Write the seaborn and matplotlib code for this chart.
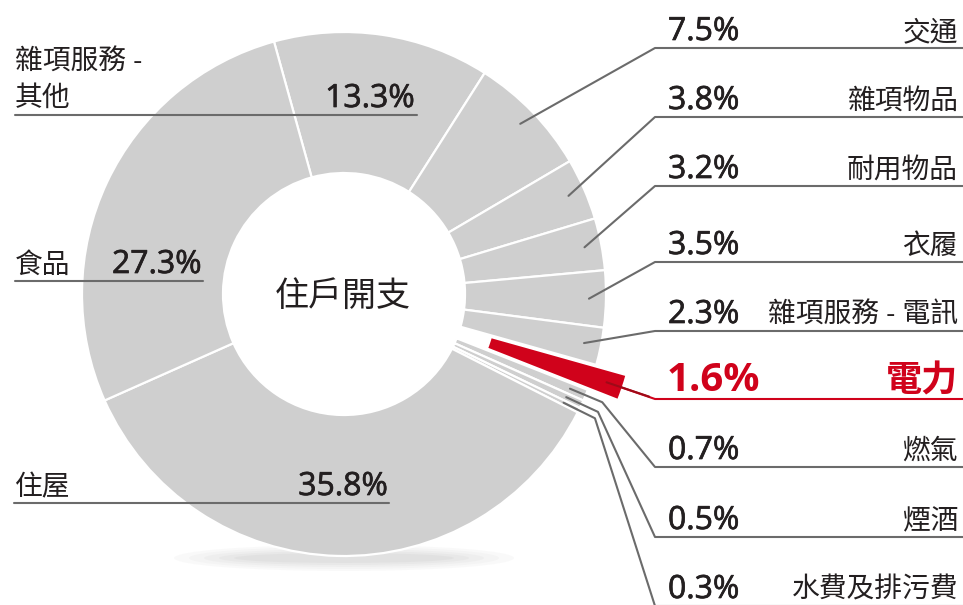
import numpy as np
import matplotlib
matplotlib.use("Agg")
import matplotlib.pyplot as plt
import matplotlib.patheffects as pe
from matplotlib.patches import Ellipse
import seaborn as sns

# household expenditure shares, in the order drawn clockwise from the top-left cut
categories = ["雜項服務 - 其他", "交通", "雜項物品", "耐用物品", "衣履", "雜項服務 - 電訊",
              "電力", "燃氣", "煙酒", "水費及排污費", "住屋", "食品"]
shares = [13.3, 7.5, 3.8, 3.2, 3.5, 2.3, 1.6, 0.7, 0.5, 0.3, 35.8, 27.3]
highlight = "電力"
centre_title = "住戶開支"

W, H = 963, 605
GREY = "#cfcfcf"
RED = "#d0021b"
INK = "#231f20"
LINE = "#6b6b6b"

sns.set_theme(style="white")
plt.rcParams["font.family"] = ["Open Sans", "Noto Sans CJK TC", "DejaVu Sans"]

# a touch heavier than Open Sans regular for the figures
THICK = [pe.withStroke(linewidth=0.5, foreground=INK)]


def py(y):
    # picture rows count from the top
    return H - y


def main() -> None:
    fig = plt.figure(figsize=(W / 100, H / 100), dpi=100)
    ax = fig.add_axes([0, 0, 1, 1])

    cx, cy = 344, py(294)
    R, r_in = 262, 121
    hi = categories.index(highlight)
    colors = [RED if c == highlight else GREY for c in categories]
    explode = [32 if c == highlight else 0 for c in categories]

    # faint shadow under the ring
    for k, a in zip(range(5), [0.05, 0.05, 0.06, 0.07, 0.08]):
        ax.add_patch(Ellipse((cx, py(558)), 340 - 30 * k, 26 - 4 * k,
                             color="#9a9a9a", alpha=a, lw=0, zorder=0))

    wedges, _ = ax.pie(shares, center=(cx, cy), radius=R, startangle=105.5,
                       counterclock=False, colors=colors, explode=explode,
                       wedgeprops=dict(width=R - r_in, edgecolor="white", linewidth=1.6))
    for w in wedges:
        w.set_zorder(1)

    ax.text(cx - 1, py(297), centre_title, ha="center", va="center",
            fontsize=24.5, color=INK, zorder=5)

    # right-hand labels with leader lines
    right_idx = list(range(1, 10))
    rows = [48, 117, 186, 262, 331, 399, 467, 537, 606]
    for i, ly in zip(right_idx, rows):
        w = wedges[i]
        mid = np.deg2rad((w.theta1 + w.theta2) / 2)
        ox, oy = w.center
        sx, sy = ox + 245 * np.cos(mid), oy + 245 * np.sin(mid)
        pct = f"{shares[i]}%"
        if i == hi:
            ax.plot([sx, 655, W], [sy, py(ly), py(ly)], color=RED, lw=1.5,
                    solid_capstyle="butt", zorder=3)
            ax.plot([sx, sx + 45 * np.cos(mid)], [sy, sy + 45 * np.sin(mid)],
                    color="#9e0a18", lw=1.5, zorder=3)
            ax.text(667, py(ly - 8), pct, ha="left", va="baseline", fontsize=29,
                    fontweight="bold", color=RED, zorder=5)
            ax.text(958, py(ly - 8), categories[i], ha="right", va="baseline",
                    fontsize=26, fontweight="bold", color=RED, zorder=5)
            continue
        if i > hi:
            ex, ey = cx + 280 * np.cos(mid), cy + 280 * np.sin(mid)
            xs, ys = [sx, ex, 655, W], [sy, ey, py(ly), py(ly)]
        else:
            xs, ys = [sx, 655, W], [sy, py(ly), py(ly)]
        ax.plot(xs, ys, color=LINE, lw=1.5, zorder=3)
        ax.text(668, py(ly - 8), pct, ha="left", va="baseline", fontsize=23,
                color=INK, zorder=5, path_effects=THICK)
        ax.text(958, py(ly - 8), categories[i], ha="right", va="baseline",
                fontsize=20, color=INK, zorder=5)

    # left-hand labels, underlined across the ring
    ax.text(15, py(70), "雜項服務 -", ha="left", va="baseline", fontsize=20, color=INK, zorder=5)
    ax.text(15, py(106), "其他", ha="left", va="baseline", fontsize=20, color=INK, zorder=5)
    ax.text(415, py(107), f"{shares[0]}%", ha="right", va="baseline", fontsize=23,
            color=INK, zorder=5, path_effects=THICK)
    ax.plot([15, 417], [py(115), py(115)], color=LINE, lw=1.5, zorder=3)

    food = categories.index("食品")
    ax.text(15, py(273), categories[food], ha="left", va="baseline", fontsize=20, color=INK, zorder=5)
    ax.text(202, py(273), f"{shares[food]}%", ha="right", va="baseline", fontsize=23,
            color=INK, zorder=5, path_effects=THICK)
    ax.plot([15, 203], [py(281), py(281)], color=LINE, lw=1.5, zorder=3)

    house = categories.index("住屋")
    ax.text(15, py(495), categories[house], ha="left", va="baseline", fontsize=20, color=INK, zorder=5)
    ax.text(388, py(495), f"{shares[house]}%", ha="right", va="baseline", fontsize=23,
            color=INK, zorder=5, path_effects=THICK)
    ax.plot([14, 389], [py(503), py(503)], color=LINE, lw=1.5, zorder=3)

    ax.set_xlim(0, W)
    ax.set_ylim(0, H)
    ax.set_aspect("equal")
    ax.axis("off")
    fig.savefig("out.png", dpi=100, facecolor="white")


if __name__ == "__main__":
    main()
